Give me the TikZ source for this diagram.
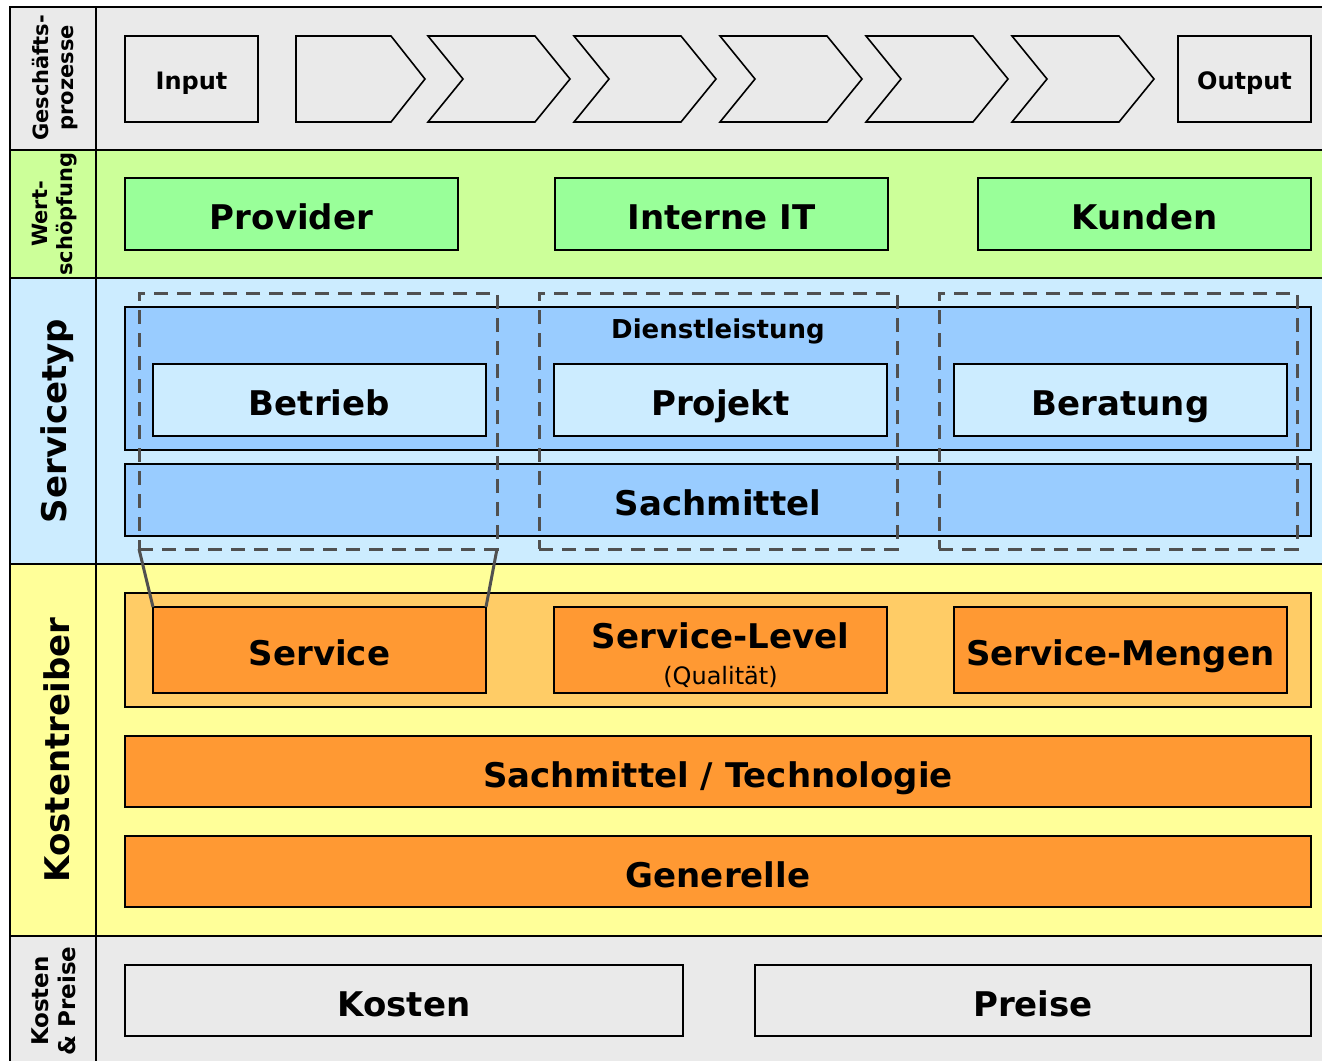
\documentclass[tikz,border=0pt]{standalone}
\usepackage{fontspec}
\setmainfont{DejaVu Sans}
\usetikzlibrary{fit}
\definecolor{rowgray}{HTML}{EAEAEA}
\definecolor{rowgreen}{HTML}{CCFF99}
\definecolor{boxgreen}{HTML}{99FF99}
\definecolor{rowblue}{HTML}{CCECFF}
\definecolor{boxblue}{HTML}{99CCFF}
\definecolor{rowyellow}{HTML}{FFFF99}
\definecolor{lightorange}{HTML}{FFCC66}
\definecolor{boxorange}{HTML}{FF9933}
\definecolor{dashgray}{HTML}{505050}
\newcommand{\bigtxt}{\fontsize{34}{38}\selectfont\bfseries}
\newcommand{\midtxt}{\fontsize{24}{28}\selectfont\bfseries}
\newcommand{\sidetxt}{\fontsize{21}{25}\selectfont\bfseries}
\begin{document}
\begin{tikzpicture}[x=1pt,y=-1pt,
  box/.style={draw=black, line width=1.6pt, inner sep=0pt, outer sep=0pt, font=\bigtxt,
    text height=31pt, text depth=0pt},
  smallbox/.style={box, font=\midtxt, text height=20.5pt, text depth=0pt,
    minimum width=133pt, minimum height=86pt},
  wbox/.style={box, minimum width=333pt, minimum height=72pt},
  fullbox/.style={box, minimum width=1186pt, minimum height=72pt},
  chev/.style={draw=black, line width=1.6pt, fill=rowgray, line join=miter},
  dashbox/.style={draw=dashgray, line width=3pt, dash pattern=on 14pt off 9pt, inner sep=0pt, outer sep=0pt},
  link/.style={draw=dashgray, line width=3pt},
  frame/.style={draw=black, line width=1.8pt},
  sidelabel/.style={rotate=90, align=center, inner sep=0pt}]
\useasboundingbox (0,0) rectangle (1322,1060);
\clip (0,0) rectangle (1322,1060);
% row bands
\fill[rowgray]   (10,7)   rectangle (1340,150);
\fill[rowgreen]  (10,150) rectangle (1340,278);
\fill[rowblue]   (10,278) rectangle (1340,564);
\fill[rowyellow] (10,564) rectangle (1340,936);
\fill[rowgray]   (10,936) rectangle (1340,1080);
\draw[frame] (1340,7) -- (10,7) -- (10,1080);
\draw[frame] (96,7) -- (96,1080);
\foreach \yy in {150,278,564,936} \draw[frame] (10,\yy) -- (1340,\yy);
% side labels
\node[sidelabel, font=\sidetxt] (lgp) at (55,78) {Geschäfts-\\prozesse};
\node[sidelabel, font=\sidetxt] (lws) at (55,214) {Wert-\\schöpfung};
\node[sidelabel, font=\bigtxt] (lst) at (57,421) {Servicetyp};
\node[sidelabel, font=\bigtxt] (lkt) at (57,750) {Kostentreiber};
\node[sidelabel, font=\fontsize{23}{27}\selectfont\bfseries] (lkp) at (54,1001) {Kosten\\\& Preise};
% row 1: processes
\node[smallbox, fill=rowgray] (input) at (191.5,79) {Input};
\node[smallbox, fill=rowgray] (output) at (1244.5,79) {Output};
\draw[chev] (296,36) -- (391,36) -- (425,79) -- (391,122) -- (296,122) -- cycle;
\foreach \k in {0,...,4} {
  \pgfmathsetmacro{\lx}{428+146*\k}
  \draw[chev] (\lx,36) -- (\lx+107,36) -- (\lx+142,79) -- (\lx+107,122) -- (\lx,122) -- (\lx+35,79) -- cycle;
}
% row 2: value creation
\node[wbox, fill=boxgreen] (prov) at (291.5,214) {Provider};
\node[wbox, fill=boxgreen] (iit) at (721.5,214) {Interne IT};
\node[wbox, fill=boxgreen] (kund) at (1144.5,214) {Kunden};
% row 3: service type
\node[box, fill=boxblue, minimum width=1186pt, minimum height=143pt] (dienst) at (718,378.5) {};
\node[font=\fontsize{26}{30}\selectfont\bfseries, inner sep=0pt, anchor=base] (dlabel) at (718,338) {Dienstleistung};
\node[wbox, fill=rowblue] (betr) at (319.5,400) {Betrieb};
\node[wbox, fill=rowblue] (proj) at (720.5,400) {Projekt};
\node[wbox, fill=rowblue] (bera) at (1120.5,400) {Beratung};
\node[fullbox, fill=boxblue] (sach) at (718,500) {Sachmittel};
\node[dashbox, fit={(139,293) (497,549)}] (d1) {};
\node[dashbox, fit={(539,293) (897,549)}] (d2) {};
\node[dashbox, fit={(939,293) (1297,549)}] (d3) {};
% row 4: cost drivers
\node[box, fill=lightorange, minimum width=1186pt, minimum height=114pt] (svcrow) at (718,650) {};
\node[wbox, fill=boxorange, minimum height=86pt] (svc) at (319.5,650) {Service};
\node[wbox, fill=boxorange, minimum height=86pt] (svl) at (720.5,650) {};
\node[font=\bigtxt, inner sep=0pt, anchor=base] (svlt) at (720.5,648) {Service-Level};
\node[font=\fontsize{24}{28}\selectfont, inner sep=0pt, anchor=base] (qual) at (720.5,684) {(Qualität)};
\node[wbox, fill=boxorange, minimum height=86pt] (svm) at (1120.5,650) {Service-Mengen};
\node[fullbox, fill=boxorange, minimum height=71pt] (tech) at (718,771.5) {Sachmittel / Technologie};
\node[fullbox, fill=boxorange, minimum height=71pt] (gen) at (718,871.5) {Generelle};
\draw[link] (d1.south west) -- (svc.north west);
\draw[link] (d1.south east) -- (svc.north east);
% row 5: costs & prices
\node[box, fill=rowgray, minimum width=558pt, minimum height=71pt] (kost) at (404,1000.5) {Kosten};
\node[box, fill=rowgray, minimum width=556pt, minimum height=71pt] (preis) at (1033,1000.5) {Preise};
\end{tikzpicture}
\end{document}
